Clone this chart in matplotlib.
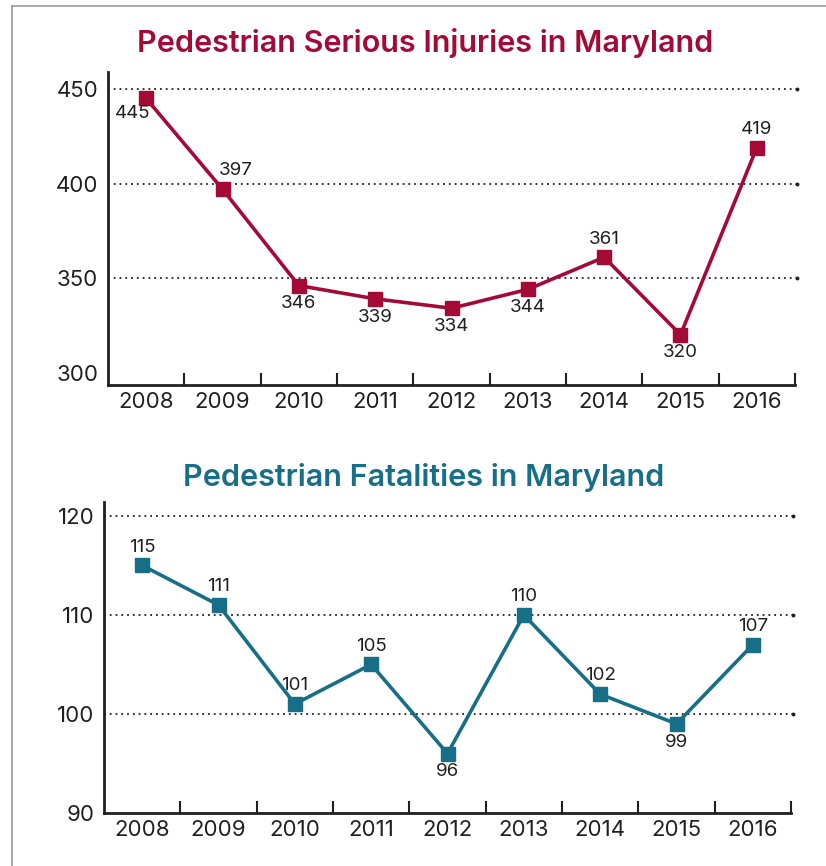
import matplotlib.pyplot as plt
from matplotlib.lines import Line2D

years = ['2008', '2009', '2010', '2011', '2012', '2013', '2014', '2015', '2016']
injuries = [445, 397, 346, 339, 334, 344, 361, 320, 419]
fatalities = [115, 111, 101, 105, 96, 110, 102, 99, 107]
# where the number label goes for each point
inj_pos = ['bl', 'ar', 'b', 'b', 'b', 'b', 'a', 'b', 'a']
fat_pos = ['a', 'a', 'a', 'a', 'b', 'a', 'a', 'b', 'a']

red = '#a30b36'
teal = '#176e87'
dark = '#231f20'

plt.rcParams['font.family'] = ['Inter', 'DejaVu Sans']

fig = plt.figure(figsize=(8.26, 8.66), dpi=100)

# grey frame at left and top
fig.add_artist(Line2D([12/826, 12/826], [0, 1 - 6/866], color='#9a9a9a', lw=1.2))
fig.add_artist(Line2D([12/826, 1], [1 - 6/866, 1 - 6/866], color='#9a9a9a', lw=1.2))


def draw(ax, vals, pos, color, ylim, yticks, grid):
    x = list(range(len(vals)))
    ax.plot(x, vals, color=color, lw=2.6, marker='s', ms=10, zorder=3)
    for i, v in enumerate(vals):
        p = pos[i]
        if p == 'a':
            ax.annotate(str(v), (i, v), xytext=(0, 7), textcoords='offset points',
                        ha='center', va='bottom', fontsize=13.5, color=dark)
        elif p == 'b':
            ax.annotate(str(v), (i, v), xytext=(0, -7), textcoords='offset points',
                        ha='center', va='top', fontsize=13.5, color=dark)
        elif p == 'ar':
            ax.annotate(str(v), (i, v), xytext=(-3, 7), textcoords='offset points',
                        ha='left', va='bottom', fontsize=13.5, color=dark)
        elif p == 'bl':
            ax.annotate(str(v), (i, v), xytext=(3, -5), textcoords='offset points',
                        ha='right', va='top', fontsize=13.5, color=dark)
    for g in grid:
        ax.plot([-0.5, 8.52], [g, g], color=dark, lw=1.3, ls=(0, (1, 2.2)),
                clip_on=False, zorder=1)
        ax.plot([8.52], [g], marker='o', ms=1.8, color=dark, clip_on=False)
    ax.set_xlim(-0.5, 8.5)
    ax.set_ylim(*ylim)
    ax.set_yticks(yticks)
    ax.set_yticklabels([str(t) for t in yticks], fontsize=16, color=dark)
    ax.tick_params(axis='y', length=0, pad=7)
    ax.set_xticks([i + 0.5 for i in range(9)])
    ax.set_xticklabels([])
    ax.tick_params(axis='x', which='major', direction='in', length=9, width=1.5, color=dark)
    ax.set_xticks(x, minor=True)
    ax.set_xticklabels(years, minor=True, fontsize=16, color=dark)
    ax.tick_params(axis='x', which='minor', length=0, pad=5)
    for s in ['top', 'right']:
        ax.spines[s].set_visible(False)
    for s in ['left', 'bottom']:
        ax.spines[s].set_linewidth(2)
        ax.spines[s].set_color(dark)


ax1 = fig.add_axes([108/826, 1 - 385/866, 687/826, 313/866])
draw(ax1, injuries, inj_pos, red, (293.4, 459), [300, 350, 400, 450], [350, 400, 450])
fig.text(425/826, 1 - 43/866, 'Pedestrian Serious Injuries in Maryland', ha='center',
         va='center', fontsize=22, fontweight='semibold', color=red)

ax2 = fig.add_axes([104/826, 1 - 813/866, 687/826, 311/866])
draw(ax2, fatalities, fat_pos, teal, (90, 121.4), [90, 100, 110, 120], [100, 110, 120])
fig.text(424/826, 1 - 478/866, 'Pedestrian Fatalities in Maryland', ha='center',
         va='center', fontsize=22, fontweight='semibold', color=teal)

fig.savefig('out.png', dpi=100)
